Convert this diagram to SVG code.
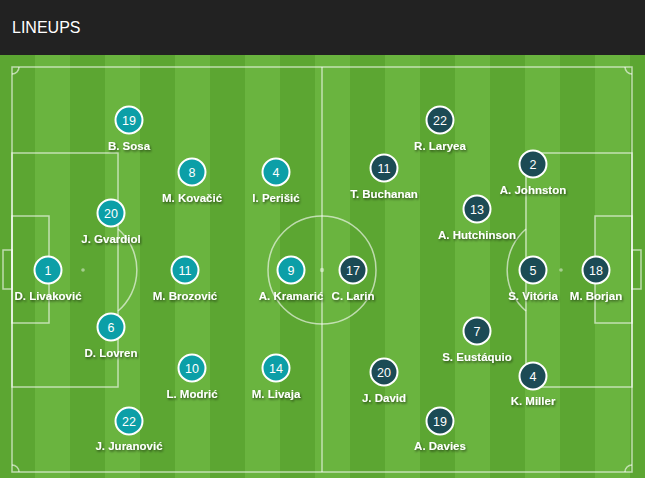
<svg xmlns="http://www.w3.org/2000/svg" width="645" height="478" viewBox="0 0 645 478">
<style>
.ln{fill:none;stroke:#ffffff;stroke-opacity:0.6;stroke-width:1.5}
.spot{fill:#ffffff;fill-opacity:0.45}
.hr circle{fill:#0c9fa7;stroke:#ffffff;stroke-width:2}
.ca circle{fill:#1c4b55;stroke:#ffffff;stroke-width:2}
.num{font-family:"Liberation Sans",Arial,sans-serif;font-size:12.5px;fill:#ffffff;text-anchor:middle}
.lbl{font-family:"Liberation Sans",Arial,sans-serif;font-size:11.5px;font-weight:bold;fill:#ffffff;text-anchor:middle;filter:url(#sh)}
.title{font-family:"Liberation Sans",Arial,sans-serif;font-size:16px;fill:#ffffff}
</style>
<defs>
<pattern id="stripes" x="0" y="0" width="70" height="478" patternUnits="userSpaceOnUse">
<rect x="0" y="0" width="35" height="478" fill="#5ca632"/>
<rect x="35" y="0" width="35" height="478" fill="#6ab43f"/>
</pattern>
<filter id="sh" x="-20%" y="-40%" width="140%" height="180%">
<feDropShadow dx="1" dy="1.5" stdDeviation="1" flood-color="#000000" flood-opacity="0.55"/>
</filter>
</defs>
<rect x="0" y="0" width="645" height="55" fill="#222222"/>
<text class="title" x="12" y="33">LINEUPS</text>
<rect x="0" y="55" width="645" height="423" fill="url(#stripes)"/>
<g id="pitch">
<rect class="ln" x="12" y="67" width="620" height="405"/>
<line class="ln" x1="322" y1="67" x2="322" y2="472"/>
<circle class="ln" cx="322" cy="270" r="54"/>
<circle class="spot" cx="322" cy="270" r="2.2"/>
<rect class="ln" x="12" y="153" width="106" height="234"/>
<rect class="ln" x="12" y="216" width="37" height="107"/>
<rect class="ln" x="3" y="250" width="9" height="39"/>
<circle class="spot" cx="83" cy="270" r="1.8"/>
<path class="ln" d="M118 229 A54 54 0 0 1 118 311"/>
<rect class="ln" x="526" y="153" width="106" height="234"/>
<rect class="ln" x="595" y="216" width="37" height="107"/>
<rect class="ln" x="632" y="250" width="9" height="39"/>
<circle class="spot" cx="561" cy="270" r="1.8"/>
<path class="ln" d="M526 229 A54 54 0 0 0 526 311"/>
<path class="ln" d="M19 67 A7 7 0 0 1 12 74"/>
<path class="ln" d="M12 465 A7 7 0 0 1 19 472"/>
<path class="ln" d="M632 74 A7 7 0 0 1 625 67"/>
<path class="ln" d="M625 472 A7 7 0 0 1 632 465"/>
</g>
<g id="connectors"></g>
<g id="hr-19" class="hr"><circle cx="129" cy="120" r="13.5"/><text class="num" x="129" y="124.5">19</text><text class="lbl" x="129" y="150">B. Sosa</text></g>
<g id="hr-8" class="hr"><circle cx="192" cy="172" r="13.5"/><text class="num" x="192" y="176.5">8</text><text class="lbl" x="192" y="202">M. Kovačić</text></g>
<g id="hr-4" class="hr"><circle cx="276" cy="172" r="13.5"/><text class="num" x="276" y="176.5">4</text><text class="lbl" x="276" y="202">I. Perišić</text></g>
<g id="hr-20" class="hr"><circle cx="111" cy="213" r="13.5"/><text class="num" x="111" y="217.5">20</text><text class="lbl" x="111" y="243">J. Gvardiol</text></g>
<g id="hr-1" class="hr"><circle cx="48" cy="270" r="13.5"/><text class="num" x="48" y="274.5">1</text><text class="lbl" x="48" y="300">D. Livaković</text></g>
<g id="hr-11" class="hr"><circle cx="185" cy="270" r="13.5"/><text class="num" x="185" y="274.5">11</text><text class="lbl" x="185" y="300">M. Brozović</text></g>
<g id="hr-9" class="hr"><circle cx="291" cy="270" r="13.5"/><text class="num" x="291" y="274.5">9</text><text class="lbl" x="291" y="300">A. Kramarić</text></g>
<g id="hr-6" class="hr"><circle cx="111" cy="327" r="13.5"/><text class="num" x="111" y="331.5">6</text><text class="lbl" x="111" y="357">D. Lovren</text></g>
<g id="hr-10" class="hr"><circle cx="192" cy="368" r="13.5"/><text class="num" x="192" y="372.5">10</text><text class="lbl" x="192" y="398">L. Modrić</text></g>
<g id="hr-14" class="hr"><circle cx="276" cy="368" r="13.5"/><text class="num" x="276" y="372.5">14</text><text class="lbl" x="276" y="398">M. Livaja</text></g>
<g id="hr-22" class="hr"><circle cx="129" cy="421" r="13.5"/><text class="num" x="129" y="425.5">22</text><text class="lbl" x="129" y="450">J. Juranović</text></g>
<g id="ca-22" class="ca"><circle cx="440" cy="120" r="13.5"/><text class="num" x="440" y="124.5">22</text><text class="lbl" x="440" y="150">R. Laryea</text></g>
<g id="ca-11" class="ca"><circle cx="384" cy="168" r="13.5"/><text class="num" x="384" y="172.5">11</text><text class="lbl" x="384" y="198">T. Buchanan</text></g>
<g id="ca-2" class="ca"><circle cx="533" cy="164" r="13.5"/><text class="num" x="533" y="168.5">2</text><text class="lbl" x="533" y="194">A. Johnston</text></g>
<g id="ca-13" class="ca"><circle cx="477" cy="209" r="13.5"/><text class="num" x="477" y="213.5">13</text><text class="lbl" x="477" y="239">A. Hutchinson</text></g>
<g id="ca-17" class="ca"><circle cx="353" cy="270" r="13.5"/><text class="num" x="353" y="274.5">17</text><text class="lbl" x="353" y="300">C. Larin</text></g>
<g id="ca-5" class="ca"><circle cx="533" cy="270" r="13.5"/><text class="num" x="533" y="274.5">5</text><text class="lbl" x="533" y="300">S. Vitória</text></g>
<g id="ca-18" class="ca"><circle cx="596" cy="270" r="13.5"/><text class="num" x="596" y="274.5">18</text><text class="lbl" x="596" y="300">M. Borjan</text></g>
<g id="ca-7" class="ca"><circle cx="477" cy="331" r="13.5"/><text class="num" x="477" y="335.5">7</text><text class="lbl" x="477" y="361">S. Eustáquio</text></g>
<g id="ca-20" class="ca"><circle cx="384" cy="372" r="13.5"/><text class="num" x="384" y="376.5">20</text><text class="lbl" x="384" y="402">J. David</text></g>
<g id="ca-4" class="ca"><circle cx="533" cy="376" r="13.5"/><text class="num" x="533" y="380.5">4</text><text class="lbl" x="533" y="405">K. Miller</text></g>
<g id="ca-19" class="ca"><circle cx="440" cy="421" r="13.5"/><text class="num" x="440" y="425.5">19</text><text class="lbl" x="440" y="450">A. Davies</text></g>
</svg>
